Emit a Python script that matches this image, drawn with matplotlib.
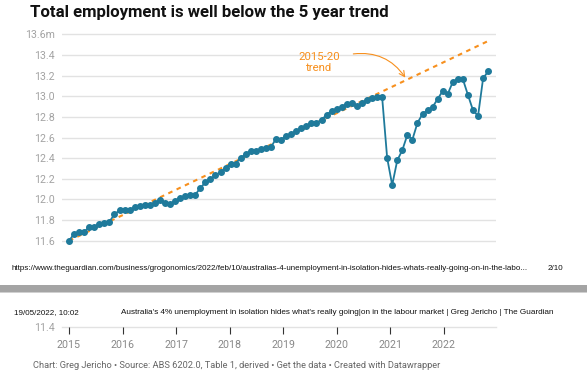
import matplotlib
matplotlib.use("Agg")
import matplotlib.pyplot as plt
from matplotlib.patches import Rectangle

# ---- data (monthly, Jan 2015 - Dec 2021, millions) ----
employment = [
    11.60, 11.665, 11.685, 11.685, 11.733, 11.732, 11.761, 11.768, 11.784, 11.856, 11.893, 11.900,
    11.900, 11.922, 11.936, 11.942, 11.942, 11.968, 11.998, 11.969, 11.953, 11.984, 12.012, 12.029,
    12.045, 12.045, 12.110, 12.165, 12.197, 12.235, 12.264, 12.306, 12.342, 12.348, 12.403, 12.438,
    12.470, 12.467, 12.484, 12.503, 12.506, 12.590, 12.578, 12.618, 12.631, 12.660, 12.692, 12.709,
    12.741, 12.738, 12.774, 12.816, 12.861, 12.874, 12.893, 12.929, 12.935, 12.903, 12.935, 12.967,
    12.987, 12.996, 12.995, 12.402, 12.139, 12.378, 12.477, 12.625, 12.580, 12.741, 12.828, 12.864,
    12.896, 12.973, 13.051, 13.022, 13.138, 13.167, 13.164, 13.012, 12.864, 12.809, 13.173, 13.241,
]
month_index = list(range(len(employment)))
trend_x = [0, 83]
trend_y = [11.60, 13.535]

yticks = [11.6, 11.8, 12.0, 12.2, 12.4, 12.6, 12.8, 13.0, 13.2, 13.4, 13.6]
ytick_labels = ["11.6", "11.8", "12.0", "12.2", "12.4", "12.6", "12.8", "13.0", "13.2", "13.4", "13.6m"]
years = [2015, 2016, 2017, 2018, 2019, 2020, 2021, 2022]

title = "Total employment is well below the 5 year trend"
url = "https://www.theguardian.com/business/grogonomics/2022/feb/10/australias-4-unemployment-in-isolation-hides-whats-really-going-on-in-the-labo..."
page = "2/10"
stamp = "19/05/2022, 10:02"
article = "Australia's 4% unemployment in isolation hides what's really going|on in the labour market | Greg Jericho | The Guardian"
source = "Chart: Greg Jericho \u2022 Source: ABS 6202.0, Table 1, derived \u2022 Get the data \u2022 Created with Datawrapper"

W, H = 587, 381
fig = plt.figure(figsize=(W / 100, H / 100), dpi=100)
fig.patch.set_facecolor("white")

def fx(px):
    return px / W

def fy(py):
    return 1 - py / H

LINE = "#1f7a9b"
ORANGE = "#f7901e"
GRID = "#e2e2e2"
TICKC = "#a3a3a3"

# ---- main axes ----
ax_l, ax_r = 62, 496
ax_t, ax_b = 30, 252
ax = fig.add_axes([fx(ax_l), fy(ax_b), (ax_r - ax_l) / W, (ax_b - ax_t) / H])
ppu_y = 103.2  # px per 1.0m
y_at_116 = 240.7
ylo = 11.6 - (ax_b - y_at_116) / ppu_y
yhi = 13.6 + (34.3 - ax_t) / ppu_y
ax.set_ylim(ylo, yhi)
ppx = 5.05
ax.set_xlim(0 - (69 - ax_l) / ppx, 0 - (69 - ax_l) / ppx + (ax_r - ax_l) / ppx)
for s in ax.spines.values():
    s.set_visible(False)
ax.set_xticks([])
ax.set_yticks(yticks)
ax.set_yticklabels(ytick_labels, fontfamily="Roboto", fontsize=7.7, color=TICKC)
ax.tick_params(axis="y", length=0, pad=5)
ax.grid(axis="y", color=GRID, linewidth=1)
ax.set_axisbelow(True)

ax.plot(trend_x, trend_y, color=ORANGE, linewidth=1.5, linestyle=(0, (2.2, 2.2)), zorder=2)
ax.plot(month_index, employment, color=LINE, linewidth=1.3, marker="o", markersize=4,
        markerfacecolor=LINE, markeredgecolor=LINE, zorder=3)

ax.text(49.5, 13.33, "2015-20\ntrend", ha="center", va="center", fontfamily="Roboto",
        fontsize=8.2, fontweight="normal", color=ORANGE, linespacing=1.15)
ax.annotate("", xy=(66.6, 13.18), xytext=(56.3, 13.41),
            arrowprops=dict(arrowstyle="->", color=ORANGE, lw=0.8,
                            connectionstyle="arc3,rad=-0.3", shrinkA=0, shrinkB=0))

# ---- title ----
fig.text(fx(30), fy(12), title, ha="left", va="center", fontfamily="Roboto",
         fontweight="bold", fontsize=12.1, color="#111111")

# ---- page-break content ----
fig.text(fx(12), fy(268), url, ha="left", va="center", fontfamily="Liberation Sans",
         fontsize=5.8, color="#111111")
fig.text(fx(548), fy(268), page, ha="left", va="center", fontfamily="Liberation Sans",
         fontsize=5.8, color="#111111")
fig.patches.append(Rectangle((0, fy(292)), 1, (292 - 285) / H, transform=fig.transFigure,
                             facecolor="#a4a4a4", edgecolor="none"))
fig.patches.append(Rectangle((0, fy(293)), 1, 1 / H, transform=fig.transFigure,
                             facecolor="#d0d0d0", edgecolor="none"))
fig.text(fx(14), fy(313), stamp, ha="left", va="center", fontfamily="Liberation Sans",
         fontsize=5.8, color="#111111")
fig.text(fx(121), fy(313), article, ha="left", va="center", fontfamily="Liberation Sans",
         fontsize=5.83, color="#111111")

# ---- bottom axis part ----
b_top, b_bot = 320, 327
bx = fig.add_axes([fx(ax_l), fy(b_bot), (ax_r - ax_l) / W, (b_bot - b_top) / H])
ppyr = 53.57
bx.set_xlim(2015 - (69 - ax_l) / ppyr, 2015 - (69 - ax_l) / ppyr + (ax_r - ax_l) / ppyr)
bx.set_ylim(11.4, 11.4 + (b_bot - b_top) / ppu_y)
for name, s in bx.spines.items():
    s.set_visible(False)
bx.axhline(11.4, color=GRID, linewidth=1, zorder=0, clip_on=False)
bx.set_yticks([11.4])
bx.set_yticklabels(["11.4"], fontfamily="Roboto", fontsize=7.7, color=TICKC)
bx.tick_params(axis="y", length=0, pad=5)
bx.set_xticks(years)
bx.set_xticklabels([str(y) for y in years], fontfamily="Roboto", fontsize=7.7, color="#888888")
bx.tick_params(axis="x", length=5, width=0.8, color="#333333", direction="out", pad=4)
bx.patch.set_alpha(0)

fig.text(fx(33), fy(366), source, ha="left", va="center", fontfamily="Roboto",
         fontsize=6.7, color="#666666")

fig.savefig("out.png", dpi=100, facecolor="white")
